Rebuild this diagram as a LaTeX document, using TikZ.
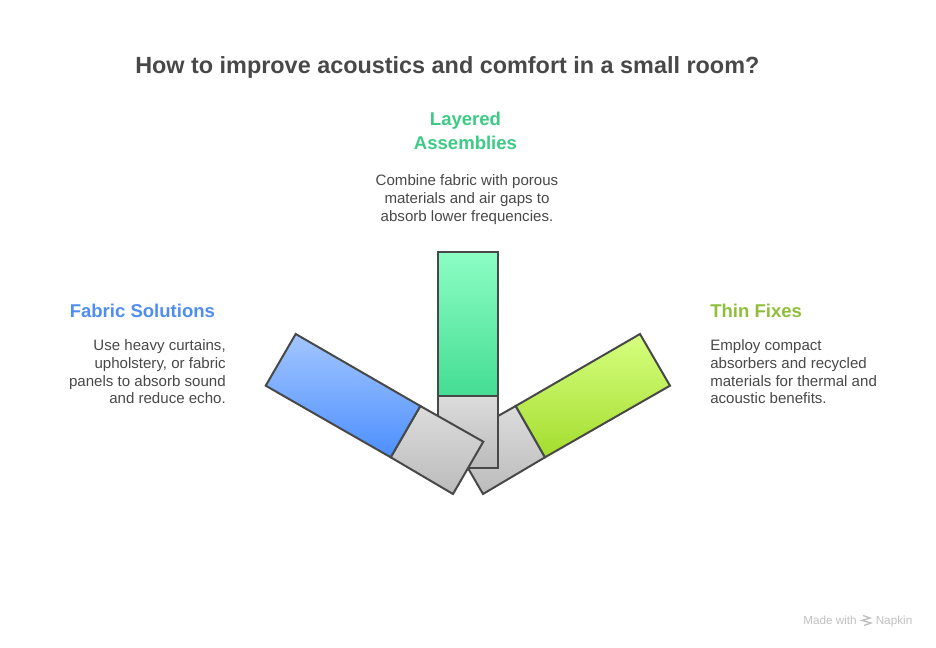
\documentclass[tikz,border=0pt]{standalone}
\usepackage{fontspec}
\setmainfont{Liberation Sans}
\usepackage{xcolor}
\definecolor{inkgray}{HTML}{484848}
\definecolor{bluetxt}{HTML}{4F8DF0}
\definecolor{greentxt}{HTML}{3CCB85}
\definecolor{limetxt}{HTML}{8FBF3A}
\definecolor{greyA}{HTML}{DCDCDC}
\definecolor{greyB}{HTML}{BBBBBB}
\definecolor{blueA}{HTML}{A3C6FF}
\definecolor{blueB}{HTML}{4C8FFF}
\definecolor{greenA}{HTML}{8CFDC4}
\definecolor{greenB}{HTML}{44DD93}
\definecolor{limeA}{HTML}{D6FF80}
\definecolor{limeB}{HTML}{A4DD2E}
\tikzset{
  bar/.style={draw=inkgray,line width=1.5pt,line join=miter},
  greybar/.style={bar,top color=greyA,bottom color=greyB},
  head/.style={font=\fontsize{13.9}{18}\bfseries\selectfont,inner sep=0pt},
  body/.style={font=\fontsize{11.3}{13.25}\selectfont,text=inkgray,inner sep=0pt},
  foot/.style={font=\fontsize{8.8}{10}\selectfont,text=black!25,inner sep=0pt,anchor=base west}
}
\begin{document}
\begin{tikzpicture}[x=0.75pt,y=-0.75pt]
\useasboundingbox(0,0)rectangle(936,648);
\node[font=\fontsize{17.55}{22}\bfseries\selectfont,text=inkgray,inner sep=0pt,anchor=base west](title)at(135,74){How to improve acoustics and comfort in a small room?};
% right bar
\draw[greybar](515.7,406)--(545,457.3)--(483,494)--(452.7,441.7)--cycle;
\draw[bar,top color=limeA,bottom color=limeB](640,334)--(670,385.7)--(545,457.3)--(515.7,406)--cycle;
% middle bar
\draw[greybar](438,395.7)rectangle(498,468);
\draw[bar,top color=greenA,bottom color=greenB](438,252)rectangle(498,395.7);
% left bar
\draw[greybar](420.3,406)--(483.3,441.7)--(453,494)--(390.7,457.3)--cycle;
\draw[bar,top color=blueA,bottom color=blueB](295.7,334)--(420.3,406)--(390.7,457.3)--(265.7,385.7)--cycle;
% labels
\node[head,text=greentxt,align=center,anchor=base](layeredhead)at(465.5,150){Layered\\Assemblies};
\node[body,align=center,anchor=north](layeredtext)at(467,174.5){Combine fabric with porous\\materials and air gaps to\\absorb lower frequencies.};
\node[head,text=bluetxt,anchor=base west](fabrichead)at(69.5,318){Fabric Solutions};
\node[body,align=right,anchor=north east](fabrictext)at(226,339.5){Use heavy curtains,\\upholstery, or fabric\\panels to absorb sound\\and reduce echo.};
\node[head,text=limetxt,anchor=base west](thinhead)at(710,318){Thin Fixes};
\node[body,align=left,anchor=north west](thintext)at(710,339.5){Employ compact\\absorbers and recycled\\materials for thermal and\\acoustic benefits.};
% footer
\node[foot](madewith)at(803,624){Made with};
\node[foot](napkin)at(875.5,624){Napkin};
\draw[black!25,line width=1pt](863,615.5)--(870,618)--(862,620.5)--(871,623)--(864,625.5);
\end{tikzpicture}
\end{document}
